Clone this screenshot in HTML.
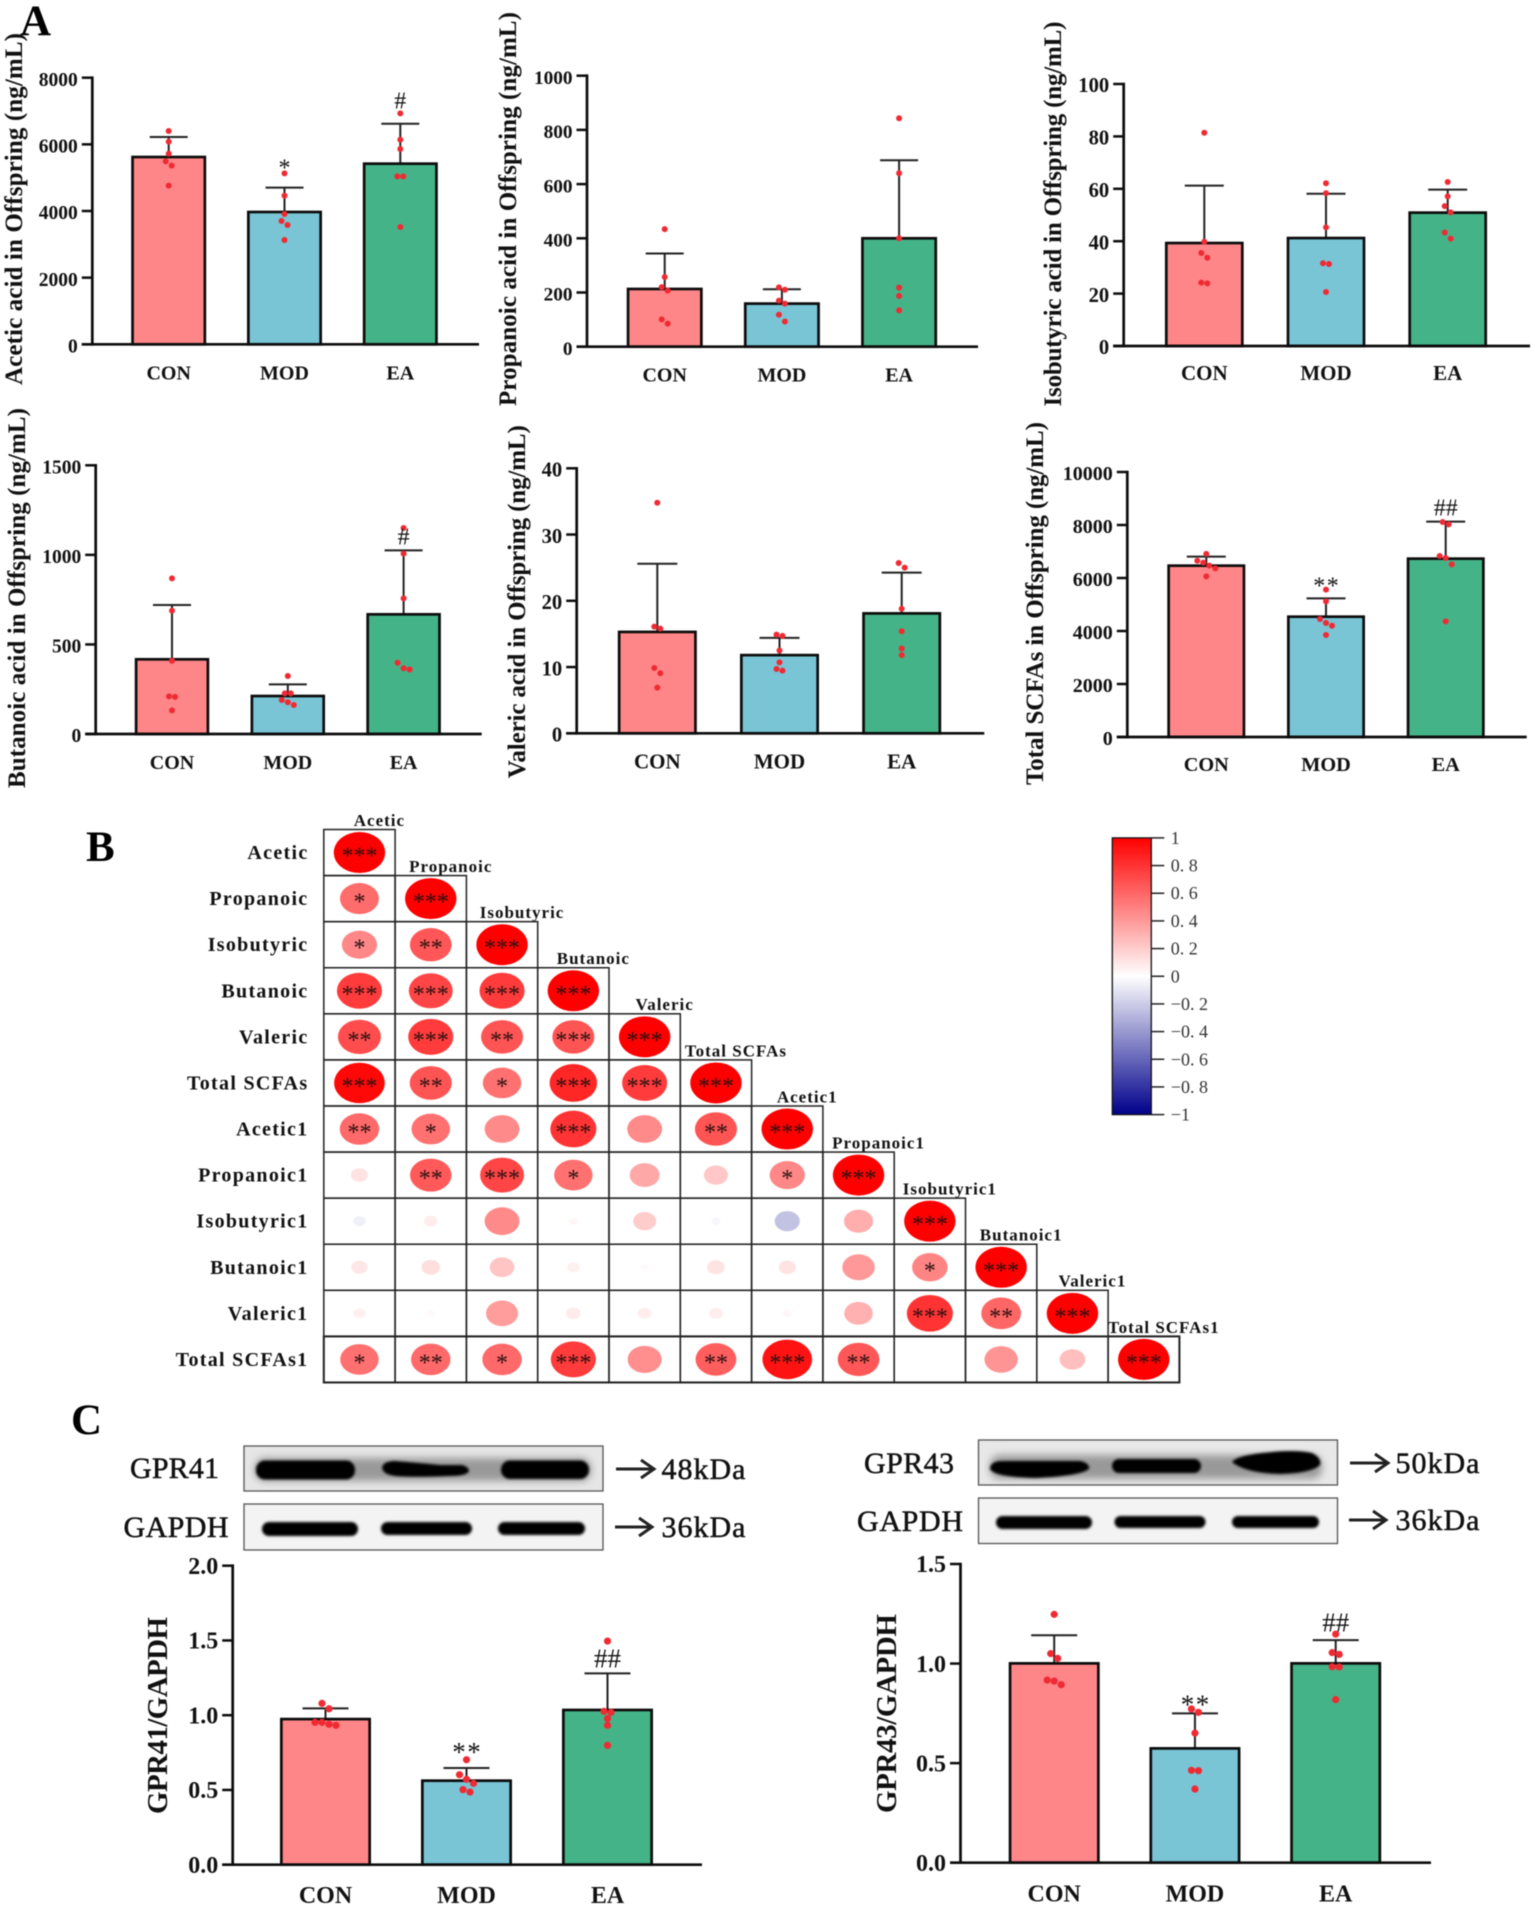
<!DOCTYPE html>
<html lang="en">
<head>
<meta charset="utf-8">
<title>SCFA panels</title>
<style>
  html, body { margin: 0; padding: 0; background: #fff; }
  svg { display: block; font-family: "Liberation Serif", "Noto Serif CJK SC", serif; filter: blur(0.4px); }
</style>
</head>
<body>
<svg id="figure" xmlns="http://www.w3.org/2000/svg" width="1535" height="1909" viewBox="0 0 1535 1909">
  <defs>
    <filter id="blur-core" x="-10%" y="-60%" width="120%" height="220%"><feGaussianBlur stdDeviation="1.3"/></filter>
    <filter id="blur-halo" x="-20%" y="-120%" width="140%" height="340%"><feGaussianBlur stdDeviation="4"/></filter>
    <linearGradient id="colorbar-gradient" x1="0" y1="0" x2="0" y2="1">
      <stop offset="0" stop-color="#ff0000"/>
      <stop offset="0.5" stop-color="#ffffff"/>
      <stop offset="1" stop-color="#00008b"/>
    </linearGradient>
  </defs>
  <rect x="0" y="0" width="1535" height="1909" fill="#fff"/>

  <text x="20" y="35" font-size="43" font-weight="bold" fill="#000">A</text>
  <text x="86" y="861" font-size="43" font-weight="bold" fill="#000">B</text>
  <text x="71" y="1434" font-size="43" font-weight="bold" fill="#000">C</text>

  <g id="bar-charts"></g>
  <g id="correlation"></g>
  <g id="colorbar"></g>

  <!-- Western blot GPR41 -->
  <g>
    <text x="130" y="1478" font-size="30" fill="#111" stroke="#111" stroke-width="0.5" textLength="89">GPR41</text>
    <text x="123.5" y="1537" font-size="30" fill="#111" stroke="#111" stroke-width="0.5" textLength="105">GAPDH</text>

    <rect x="244" y="1446" width="359" height="45" fill="#e6e6e6" stroke="#555" stroke-width="1.3"/>
    <g fill="#000">
      <rect x="255" y="1458" width="336" height="23" rx="10" fill="#999" filter="url(#blur-halo)"/>
      <rect x="256" y="1460.5" width="99" height="19" rx="9" filter="url(#blur-core)"/>
      <path d="M382 1468Q383 1461 395 1461Q420 1463 440 1465L462 1465Q469 1467 469 1471Q467 1476 450 1476Q400 1478 390 1475Q383 1473 382 1468Z" filter="url(#blur-core)"/>
      <rect x="501" y="1460.5" width="88" height="18.5" rx="9" filter="url(#blur-core)"/>
    </g>
    <rect x="244" y="1504" width="359" height="46" fill="#f3f3f3" stroke="#555" stroke-width="1.3"/>
    <g fill="#000">
      <rect x="262" y="1522" width="96" height="14" rx="7" filter="url(#blur-core)"/>
      <rect x="381" y="1522" width="91" height="13" rx="6.5" filter="url(#blur-core)"/>
      <rect x="498" y="1522" width="87" height="13" rx="6.5" filter="url(#blur-core)"/>
    </g>
    <g stroke="#222" stroke-width="3" fill="none">
      <path d="M616 1469H653M641 1460L654 1469L641 1478"/>
      <path d="M615 1527H651M639 1518L652 1527L639 1536"/>
    </g>
    <text x="661.5" y="1479" font-size="30" fill="#111" stroke="#111" stroke-width="0.5" textLength="84">48kDa</text>
    <text x="661.5" y="1537" font-size="30" fill="#111" stroke="#111" stroke-width="0.5" textLength="84">36kDa</text>
  </g>

  <!-- Western blot GPR43 -->
  <g>
    <text x="864" y="1473" font-size="30" fill="#111" stroke="#111" stroke-width="0.5" textLength="90">GPR43</text>
    <text x="857" y="1531" font-size="30" fill="#111" stroke="#111" stroke-width="0.5" textLength="106">GAPDH</text>

    <rect x="978.5" y="1440" width="359" height="45" fill="#e8e8e8" stroke="#555" stroke-width="1.3"/>
    <g fill="#000">
      <rect x="990" y="1455" width="332" height="24" rx="10" fill="#999" filter="url(#blur-halo)"/>
      <path d="M990 1469Q990 1461 1003 1461L1080 1461Q1090 1463 1089 1469Q1080 1476 1035 1478Q994 1477 990 1469Z" filter="url(#blur-core)"/>
      <rect x="1112" y="1459" width="89" height="14" rx="7" filter="url(#blur-core)"/>
      <path d="M1232 1462Q1236 1456 1262 1453Q1295 1449 1312 1453Q1322 1458 1320 1465Q1312 1473 1280 1474Q1245 1473 1232 1462Z" filter="url(#blur-core)"/>
    </g>
    <rect x="978.5" y="1498" width="359" height="45.5" fill="#f3f3f3" stroke="#555" stroke-width="1.3"/>
    <g fill="#000">
      <rect x="996" y="1516" width="96" height="13" rx="6.5" filter="url(#blur-core)"/>
      <rect x="1114.5" y="1516" width="91" height="12" rx="6" filter="url(#blur-core)"/>
      <rect x="1232" y="1516" width="87" height="12" rx="6" filter="url(#blur-core)"/>
    </g>
    <g stroke="#222" stroke-width="3" fill="none">
      <path d="M1350 1463H1387M1375 1454L1388 1463L1375 1472"/>
      <path d="M1349 1520H1385M1373 1511L1386 1520L1373 1529"/>
    </g>
    <text x="1395.5" y="1473" font-size="30" fill="#111" stroke="#111" stroke-width="0.5" textLength="84">50kDa</text>
    <text x="1395.5" y="1530" font-size="30" fill="#111" stroke="#111" stroke-width="0.5" textLength="84">36kDa</text>
  </g>
</svg>

<script>
const categories = ['CON', 'MOD', 'EA'];
const barColors = ['#ff8688', '#79c5d6', '#45b388'];

const aceticTicks = [0, 2000, 4000, 6000, 8000];
const aceticMeans = [5620, 3970, 5420];
const aceticErrTops = [6220, 4700, 6620];
const aceticPoints = [[6400, 6080, 5720, 5490, 5360, 4760], [5130, 4460, 3910, 3700, 3580, 3130], [6930, 6140, 5860, 5040, 5040, 3520]];
const aceticSig = ['', '*', '#'];
const aceticSigAt = [0, 5410, 7310];

const propanoicTicks = [0, 200, 400, 600, 800, 1000];
const propanoicMeans = [213, 159, 400];
const propanoicErrTops = [344, 212, 688];
const propanoicPoints = [[434, 257, 220, 207, 101, 85], [219, 210, 170, 159, 118, 93], [843, 640, 400, 218, 187, 134]];
const propanoicSig = ['', '', ''];
const propanoicSigAt = [0, 0, 0];

const isobutyricTicks = [0, 20, 40, 60, 80, 100];
const isobutyricMeans = [39.3, 41.2, 50.9];
const isobutyricErrTops = [61.2, 58.1, 59.7];
const isobutyricPoints = [[81.4, 39.8, 35.5, 33.7, 24.2, 23.9], [62.1, 58.3, 45.3, 31.6, 31.3, 20.6], [62.6, 57.1, 53.4, 51, 43.3, 41]];
const isobutyricSig = ['', '', ''];
const isobutyricSigAt = [0, 0, 0];

const butanoicTicks = [0, 500, 1000, 1500];
const butanoicMeans = [417, 212, 668];
const butanoicErrTops = [720, 277, 1025];
const butanoicPoints = [[869, 689, 409, 210, 207, 132], [324, 227, 227, 190, 177, 162], [1150, 1007, 757, 398, 367, 360]];
const butanoicSig = ['', '', '#'];
const butanoicSigAt = [0, 0, 1102];

const valericTicks = [0, 10, 20, 30, 40];
const valericMeans = [15.3, 11.8, 18.1];
const valericErrTops = [25.6, 14.4, 24.25];
const valericPoints = [[34.8, 16.1, 15.8, 9.86, 9.06, 6.9], [14.9, 14.7, 12.5, 10.7, 9.7, 9.46], [25.7, 25, 18.8, 15.4, 12.8, 11.8]];
const valericSig = ['', '', ''];
const valericSigAt = [0, 0, 0];

const totalTicks = [0, 2000, 4000, 6000, 8000, 10000];
const totalMeans = [6465, 4540, 6730];
const totalErrTops = [6805, 5233, 8126];
const totalPoints = [[6910, 6650, 6580, 6465, 6365, 6063], [5560, 5120, 4453, 4300, 4200, 3850], [8113, 8025, 6830, 6755, 6515, 4365]];
const totalSig = ['', '**', '##'];
const totalSigAt = [0, 5836, 8654];

const gpr41Ticks = ['0.0', '0.5', '1.0', '1.5', '2.0'];
const gpr41Means = [0.974, 0.562, 1.035];
const gpr41ErrTops = [1.046, 0.647, 1.28];
const gpr41Points = [[1.079, 1.043, 0.952, 0.952, 0.939, 0.932], [0.702, 0.602, 0.571, 0.544, 0.502, 0.486], [1.496, 1.026, 1.019, 0.977, 0.932, 0.798]];
const gpr41Sig = ['', '**', '##'];
const gpr41SigAt = [0, 0.778, 1.38];

const gpr43Ticks = ['0.0', '0.5', '1.0', '1.5'];
const gpr43Means = [1.001, 0.574, 1.001];
const gpr43ErrTops = [1.142, 0.75, 1.118];
const gpr43Points = [[1.247, 1.05, 1.026, 0.917, 0.912, 0.894], [0.772, 0.755, 0.651, 0.464, 0.462, 0.37], [1.148, 1.055, 1.046, 0.984, 0.983, 0.819]];
const gpr43Sig = ['', '**', '##'];
const gpr43SigAt = [0, 0.814, 1.207];

const corrRowLabels = ['Acetic', 'Propanoic', 'Isobutyric', 'Butanoic', 'Valeric', 'Total SCFAs', 'Acetic1', 'Propanoic1', 'Isobutyric1', 'Butanoic1', 'Valeric1', 'Total SCFAs1'];
const corrValues = [
  [1],
  [0.576, 1],
  [0.47, 0.66, 1],
  [0.77, 0.73, 0.77, 1],
  [0.70, 0.77, 0.67, 0.67, 1],
  [0.97, 0.67, 0.56, 0.85, 0.77, 1],
  [0.59, 0.56, 0.46, 0.80, 0.46, 0.67, 1],
  [0.11, 0.65, 0.73, 0.56, 0.34, 0.22, 0.47, 1],
  [-0.06, 0.07, 0.46, 0.03, 0.2, -0.03, -0.24, 0.32, 1],
  [0.10, 0.13, 0.23, 0.06, 0.02, 0.115, 0.11, 0.40, 0.48, 1],
  [0.06, 0.025, 0.39, 0.08, 0.07, 0.07, 0.03, 0.31, 0.80, 0.60, 1],
  [0.56, 0.59, 0.59, 0.77, 0.44, 0.63, 0.93, 0.66, 0, 0.42, 0.25, 1]
];
const corrStars = [
  ['***'],
  ['*', '***'],
  ['*', '**', '***'],
  ['***', '***', '***', '***'],
  ['**', '***', '**', '***', '***'],
  ['***', '**', '*', '***', '***', '***'],
  ['**', '*', '', '***', '', '**', '***'],
  ['', '**', '***', '*', '', '', '*', '***'],
  ['', '', '', '', '', '', '', '', '***'],
  ['', '', '', '', '', '', '', '', '*', '***'],
  ['', '', '', '', '', '', '', '', '***', '**', '***'],
  ['*', '**', '*', '***', '', '**', '***', '**', '', '', '', '***']
];
const colorbarTicks = [1, 0.8, 0.6, 0.4, 0.2, 0, -0.2, -0.4, -0.6, -0.8, -1];
const colorbarLabels = ['1', '0. 8', '0. 6', '0. 4', '0. 2', '0', '\u22120. 2', '\u22120. 4', '\u22120. 6', '\u22120. 8', '\u22121'];

const NS = 'http://www.w3.org/2000/svg';
function mk(tag, attrs, parent, content) {
  const node = document.createElementNS(NS, tag);
  for (const k in attrs) node.setAttribute(k, attrs[k]);
  if (content !== undefined) node.textContent = content;
  parent.appendChild(node);
  return node;
}

function swarmOffsets(values, yOf, threshold, step) {
  const order = values.map((v, i) => i).sort((a, b) => values[b] - values[a]);
  const offsets = new Array(values.length).fill(0);
  let group = [];
  const flush = () => {
    group.forEach((idx, i) => { offsets[idx] = (i - (group.length - 1) / 2) * step; });
    group = [];
  };
  order.forEach((idx) => {
    if (group.length && yOf(values[idx]) - yOf(values[group[group.length - 1]]) >= threshold) flush();
    group.push(idx);
  });
  flush();
  return offsets;
}

const charts = [
  { id: 'acetic', title: 'Acetic acid in Offspring (ng/mL)', titleX: 22, titleMid: 209, titleLen: 352, titleSize: 25, axisX: 92.3, y0: 344.3, yTop: 77.7, xEnd: 479, first: 168.7, step: 115.8, barW: 75, capW: 38, tickSize: 19.5, catSize: 20, catDy: 35, dot: 3, swarm: 6, sigSize: 24, sigGap: 0, ticks: aceticTicks, means: aceticMeans, errs: aceticErrTops, points: aceticPoints, sig: aceticSig, sigAt: aceticSigAt },
  { id: 'propanoic', title: 'Propanoic acid in Offspring (ng/mL)', titleX: 516, titleMid: 209, titleLen: 394, titleSize: 25, axisX: 587, y0: 346.7, yTop: 75.7, xEnd: 978, first: 664.7, step: 117.2, barW: 76, capW: 38, tickSize: 19.3, catSize: 20, catDy: 35, dot: 3, swarm: 6.8, sigSize: 24, sigGap: 0, ticks: propanoicTicks, means: propanoicMeans, errs: propanoicErrTops, points: propanoicPoints, sig: propanoicSig, sigAt: propanoicSigAt },
  { id: 'isobutyric', title: 'Isobutyric acid in Offspring (ng/mL)', titleX: 1061, titleMid: 214, titleLen: 385, titleSize: 25, axisX: 1123.7, y0: 346, yTop: 84, xEnd: 1530, first: 1204.3, step: 121.7, barW: 78.7, capW: 39, tickSize: 20.6, catSize: 21, catDy: 34, dot: 3, swarm: 6.4, sigSize: 24, sigGap: 0, ticks: isobutyricTicks, means: isobutyricMeans, errs: isobutyricErrTops, points: isobutyricPoints, sig: isobutyricSig, sigAt: isobutyricSigAt },
  { id: 'butanoic', title: 'Butanoic acid in Offspring (ng/mL)', titleX: 25, titleMid: 598, titleLen: 380, titleSize: 25, axisX: 95.7, y0: 734, yTop: 465.3, xEnd: 481.7, first: 172, step: 115.8, barW: 74.5, capW: 38, tickSize: 19.5, catSize: 20, catDy: 35, dot: 3, swarm: 6, sigSize: 24, sigGap: 0, ticks: butanoicTicks, means: butanoicMeans, errs: butanoicErrTops, points: butanoicPoints, sig: butanoicSig, sigAt: butanoicSigAt },
  { id: 'valeric', title: 'Valeric acid in Offspring (ng/mL)', titleX: 525, titleMid: 601.7, titleLen: 353, titleSize: 25, axisX: 576.7, y0: 733.3, yTop: 468.3, xEnd: 984.3, first: 657.3, step: 122.2, barW: 79, capW: 40, tickSize: 20.6, catSize: 21, catDy: 35, dot: 3, swarm: 6.4, sigSize: 24, sigGap: 0, ticks: valericTicks, means: valericMeans, errs: valericErrTops, points: valericPoints, sig: valericSig, sigAt: valericSigAt },
  { id: 'total', title: 'Total SCFAs in Offspring (ng/mL)', titleX: 1043, titleMid: 603.5, titleLen: 363, titleSize: 25, axisX: 1127.3, y0: 737, yTop: 472, xEnd: 1526.7, first: 1206.3, step: 119.7, barW: 78, capW: 39, tickSize: 20, catSize: 20.3, catDy: 34, dot: 3, swarm: 6.4, sigSize: 24, sigGap: 1.5, ticks: totalTicks, means: totalMeans, errs: totalErrTops, points: totalPoints, sig: totalSig, sigAt: totalSigAt },
  { id: 'gpr41', title: 'GPR41/GAPDH', titleX: 167, titleMid: 1715.5, titleLen: 197, titleSize: 29, axisX: 232.7, y0: 1864.7, yTop: 1565.7, xEnd: 702, first: 325.5, step: 141, barW: 91, capW: 46, tickSize: 24, catSize: 24, catDy: 38.5, dot: 3.6, swarm: 6, swarmStep: 7, sigSize: 27, sigGap: 1.5, ticks: gpr41Ticks, means: gpr41Means, errs: gpr41ErrTops, points: gpr41Points, sig: gpr41Sig, sigAt: gpr41SigAt },
  { id: 'gpr43', title: 'GPR43/GAPDH', titleX: 896, titleMid: 1713.5, titleLen: 199, titleSize: 29, axisX: 960.5, y0: 1862.7, yTop: 1564, xEnd: 1431, first: 1054.2, step: 140.75, barW: 91, capW: 46, tickSize: 24, catSize: 24, catDy: 39, dot: 3.6, swarm: 6, swarmStep: 7, sigSize: 27, sigGap: 1.5, ticks: gpr43Ticks, means: gpr43Means, errs: gpr43ErrTops, points: gpr43Points, sig: gpr43Sig, sigAt: gpr43SigAt }
];

const INK = '#0c0c0c';

function drawChart(c) {
  const root = document.getElementById('bar-charts');
  const g = mk('g', {}, root);
  
  

  const tickVals = c.ticks.map(Number);
  const maxV = Math.max.apply(null, tickVals);
  const yOf = (v) => c.y0 - (v / maxV) * (c.y0 - c.yTop);
  const xOf = (i) => c.first + i * c.step;

  const title = mk('text', { transform: 'translate(' + c.titleX + ',' + c.titleMid + ') rotate(-90)', 'text-anchor': 'middle', 'font-size': c.titleSize, 'font-weight': 'bold', fill: '#111', textLength: c.titleLen }, g, c.title);
  
  

  categories.forEach((cat, i) => {
    const errLine = mk('line', { x1: xOf(i), x2: xOf(i), y1: yOf(c.means[i]), y2: yOf(c.errs[i]), stroke: '#222', 'stroke-width': 2 }, g);
    
    

    const cap = mk('line', { x1: xOf(i) - c.capW / 2, x2: xOf(i) + c.capW / 2, y1: yOf(c.errs[i]), y2: yOf(c.errs[i]), stroke: '#222', 'stroke-width': 2 }, g);
    
    

    const bar = mk('rect', { x: xOf(i) - c.barW / 2 + 1.35, y: yOf(c.means[i]), width: c.barW - 2.7, height: c.y0 - yOf(c.means[i]), fill: barColors[i], stroke: INK, 'stroke-width': 2.7 }, g);
    
    
  });

  const axisY = mk('line', { x1: c.axisX, x2: c.axisX, y1: c.yTop - 1.3, y2: c.y0 + 1.3, stroke: INK, 'stroke-width': 2.7 }, g);
  
  

  const axisX = mk('line', { x1: c.axisX - 10.5, x2: c.xEnd, y1: c.y0, y2: c.y0, stroke: INK, 'stroke-width': 2.7 }, g);
  
  

  c.ticks.forEach((t) => {
    const v = Number(t);
    const tick = mk('line', { x1: c.axisX - 10.5, x2: c.axisX, y1: yOf(v), y2: yOf(v), stroke: INK, 'stroke-width': 2.5 }, g);
    
    

    const label = mk('text', { x: c.axisX - 14.5, y: yOf(v) + 8.2, 'text-anchor': 'end', 'font-size': c.tickSize, 'font-weight': 'bold', fill: '#111' }, g, String(t));
    
    
  });

  categories.forEach((cat, i) => {
    const label = mk('text', { x: xOf(i), y: c.y0 + c.catDy, 'text-anchor': 'middle', 'font-size': c.catSize, 'font-weight': 'bold', fill: '#111' }, g, cat);
    
    

    const offs = swarmOffsets(c.points[i], yOf, c.swarm, c.swarmStep || 6);
    c.points[i].forEach((v, k) => {
      const dot = mk('circle', { cx: xOf(i) + offs[k], cy: yOf(v), r: c.dot, fill: '#ef2a33' }, g);
      
      
    });

    if (c.sig[i]) {
      const isStar = c.sig[i].charAt(0) === '*';
      const lift = isStar ? 0.47 : 0.33;
      const gap = isStar ? c.sigGap : 0;
      const sig = mk('text', { x: xOf(i) + gap / 2, y: yOf(c.sigAt[i]) + lift * c.sigSize, 'text-anchor': 'middle', 'font-size': c.sigSize, fill: '#111', style: 'letter-spacing:' + gap + 'px' }, g, c.sig[i]);
      
      
    }
  });
}
charts.forEach(drawChart);

function corrColor(r) {
  const a = Math.min(1, Math.abs(r));
  if (r >= 0) {
    const c = Math.round(255 * (1 - a));
    return 'rgb(255,' + c + ',' + c + ')';
  }
  return 'rgb(' + Math.round(255 * (1 - a)) + ',' + Math.round(255 * (1 - a)) + ',' + Math.round(255 - 116 * a) + ')';
}

function drawCorrelation() {
  const root = document.getElementById('correlation');
  const gridX = 323.8, gridY = 829.5, cellW = 71.3, cellH = 46.08;
  const maxRx = 25.7, maxRy = 20.5;

  corrValues.forEach((row, i) => {
    const cy = gridY + (i + 0.5) * cellH;

    const rowLabel = mk('text', { x: 308.5, y: cy + 6.5, 'text-anchor': 'end', 'font-size': 20, 'font-weight': 'bold', fill: '#111', style: 'letter-spacing:1.3px' }, root, corrRowLabels[i]);
    
    

    const colLabel = mk('text', { x: gridX + (i + 0.5) * cellW + 20, y: gridY + i * cellH - 3.6, 'text-anchor': 'middle', 'font-size': 17, 'font-weight': 'bold', fill: '#111', style: 'letter-spacing:1px' }, root, corrRowLabels[i]);
    
    

    row.forEach((r, j) => {
      const cx = gridX + (j + 0.5) * cellW;

      const cell = mk('rect', { x: gridX + j * cellW, y: gridY + i * cellH, width: cellW, height: cellH, fill: 'none', stroke: '#222', 'stroke-width': 1.5 }, root);
      
      

      if (r !== 0) {
        const k = Math.sqrt(Math.abs(r));
        const blob = mk('ellipse', { cx: cx, cy: cy, rx: maxRx * k, ry: maxRy * k, fill: corrColor(r) }, root);
        
        
      }
      if (corrStars[i][j]) {
        const stars = mk('text', { x: cx, y: cy + 11, 'text-anchor': 'middle', 'font-size': 24, fill: '#2a1010' }, root, corrStars[i][j]);
        
        
      }
    });
  });

  const frame = mk('rect', { x: gridX, y: gridY + 11 * cellH, width: cellW * 12, height: cellH, fill: 'none', stroke: '#222', 'stroke-width': 2 }, root);
  
  
}
drawCorrelation();

function drawColorbar() {
  const root = document.getElementById('colorbar');
  const left = 1112.3, right = 1151.3, top = 837.9, bottom = 1114.6;
  const yOf = (v) => top + (1 - v) / 2 * (bottom - top);

  const bar = mk('rect', { x: left, y: top, width: right - left, height: bottom - top, fill: 'url(#colorbar-gradient)', stroke: '#111', 'stroke-width': 1.3 }, root);
  
  

  colorbarTicks.forEach((v, i) => {
    const tick = mk('line', { x1: right, x2: right + 13, y1: yOf(v), y2: yOf(v), stroke: '#222', 'stroke-width': 1.5 }, root);
    
    

    const label = mk('text', { x: right + 19.5, y: yOf(v) + 6, 'font-size': 18, fill: '#333', 'xml:space': 'preserve' }, root, colorbarLabels[i]);
    
    
  });
}
drawColorbar();
</script>
</body>
</html>
